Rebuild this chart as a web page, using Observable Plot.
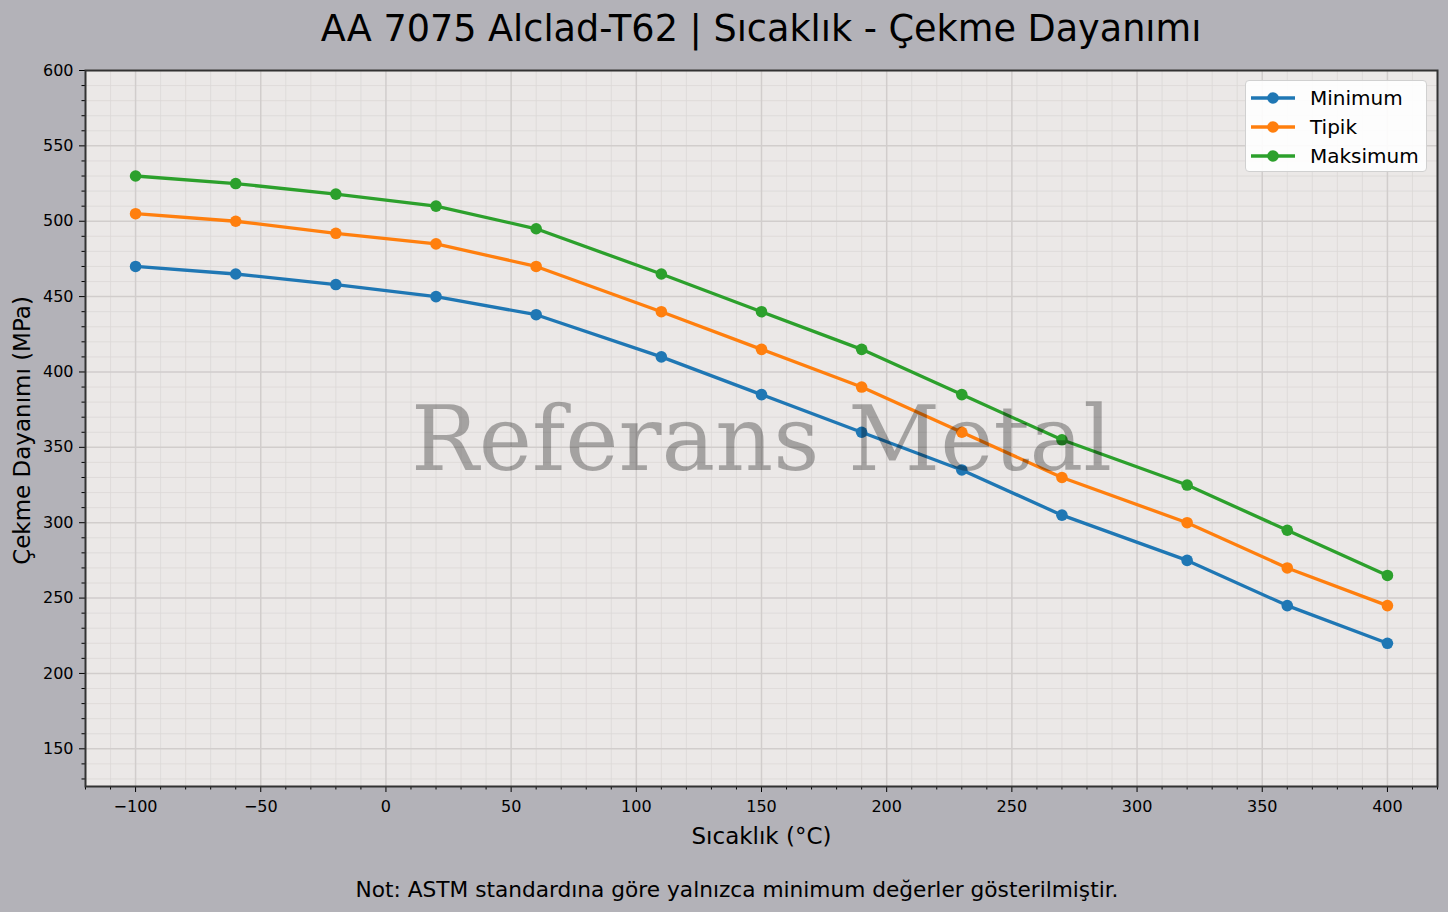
<!DOCTYPE html>
<html>
<head>
<meta charset="utf-8">
<script src="https://cdn.jsdelivr.net/npm/d3@7"></script>
<script src="https://cdn.jsdelivr.net/npm/@observablehq/plot@0.6"></script>
<style>
  html, body { margin: 0; padding: 0; background: #b3b2b8; }
  #fig { position: relative; width: 1448px; height: 912px; background: #b3b2b8; font-family: "DejaVu Sans", sans-serif; overflow: hidden; }
  #title { position: absolute; left: 85px; width: 1352px; top: 11px; text-align: center; font-size: 36.6px; line-height: 36px; color: #000; white-space: nowrap; }
  #caption { position: absolute; left: 737px; top: 879px; transform: translateX(-50%); font-size: 21.7px; line-height: 21px; color: #000; white-space: nowrap; }
  #chart { position: absolute; left: 0; top: 50px; }
  #legend { position: absolute; left: 1245px; top: 80px; width: 180px; height: 90px; background: rgba(255,255,255,0.9); border: 1px solid #d0d0d0; border-radius: 4px; }
  .lrow { position: absolute; left: 5px; height: 29px; display: flex; align-items: center; font-size: 20px; color: #000; }
  .lrow svg { margin-right: 15px; }
</style>
</head>
<body>
<div id="fig">
  <div id="title"></div>
  <div id="chart"></div>
  <div id="legend"></div>
  <div id="caption"></div>
</div>
<script>
const titleText = "AA 7075 Alclad-T62 | Sıcaklık - Çekme Dayanımı";
const captionText = "Not: ASTM standardına göre yalnızca minimum değerler gösterilmiştir.";
const xLabel = "Sıcaklık (°C)";
const yLabel = "Çekme Dayanımı (MPa)";
const watermark = "Referans Metal";

const temps = [-100, -60, -20, 20, 60, 110, 150, 190, 230, 270, 320, 360, 400];
const minVals = [470, 465, 458, 450, 438, 410, 385, 360, 335, 305, 275, 245, 220];
const typVals = [505, 500, 492, 485, 470, 440, 415, 390, 360, 330, 300, 270, 245];
const maxVals = [530, 525, 518, 510, 495, 465, 440, 415, 385, 355, 325, 295, 265];
const seriesNames = ["Minimum", "Tipik", "Maksimum"];
const seriesColors = ["#1f77b4", "#ff7f0e", "#2ca02c"];
const xTicks = [-100, -50, 0, 50, 100, 150, 200, 250, 300, 350, 400];
const yTicks = [150, 200, 250, 300, 350, 400, 450, 500, 550, 600];
const xMinor = d3.range(-120, 421, 10).filter(v => !xTicks.includes(v));
const yMinor = d3.range(130, 601, 10).filter(v => !yTicks.includes(v));

const seriesVals = [minVals, typVals, maxVals];
const rows = [];
seriesNames.forEach((s, i) => temps.forEach((t, j) => rows.push({s, t, v: seriesVals[i][j]})));

document.getElementById("title").textContent = titleText;
document.getElementById("caption").textContent = captionText;

const fmt = d => d < 0 ? "\u2212" + Math.abs(d) : String(d);

const chart = Plot.plot({
  width: 1448,
  height: 800,
  marginTop: 20,
  marginLeft: 85,
  marginRight: 11,
  marginBottom: 64,
  style: {background: "transparent", fontFamily: "DejaVu Sans", color: "#000", overflow: "visible"},
  x: {domain: [-120, 420], label: null},
  y: {domain: [125, 600], label: null},
  color: {domain: seriesNames, range: seriesColors},
  marks: [
    Plot.frame({fill: "#ebe8e7", stroke: "none"}),
    Plot.gridX(xMinor, {stroke: "#dcd8d7", strokeOpacity: 1, strokeWidth: 0.8}),
    Plot.gridY(yMinor, {stroke: "#dcd8d7", strokeOpacity: 1, strokeWidth: 0.8}),
    Plot.gridX(xTicks, {stroke: "#d1cdcc", strokeOpacity: 1, strokeWidth: 1.5}),
    Plot.gridY(yTicks, {stroke: "#d1cdcc", strokeOpacity: 1, strokeWidth: 1.5}),
    Plot.line(rows, {x: "t", y: "v", z: "s", stroke: "s", strokeWidth: 3.3}),
    Plot.dot(rows, {x: "t", y: "v", fill: "s", r: 5.8, stroke: "none"}),
    Plot.text([watermark], {text: d => d, frameAnchor: "middle", dy: 13, fontSize: 90, fontFamily: "DejaVu Serif", fill: "#000", fillOpacity: 0.3}),
    Plot.axisX(xTicks, {tickSize: 6, tickPadding: 8, fontSize: 16, tickFormat: fmt, label: null}),
    Plot.axisX(xMinor, {tickSize: 3.5, tickFormat: () => "", label: null}),
    Plot.axisY(yTicks, {tickSize: 6, tickPadding: 6, fontSize: 16, tickFormat: fmt, label: null}),
    Plot.axisY(yMinor, {tickSize: 3.5, tickFormat: () => "", label: null}),
    Plot.frame({stroke: "#333", strokeWidth: 2, fill: "none"}),
    Plot.text([xLabel], {text: d => d, frameAnchor: "bottom", lineAnchor: "bottom", dy: 57, fontSize: 23, fill: "#000"}),
    Plot.text([yLabel], {text: d => d, frameAnchor: "left", textAnchor: "middle", lineAnchor: "bottom", rotate: -90, dx: -56, dy: 2, fontSize: 23, fill: "#000"})
  ]
});
document.getElementById("chart").appendChild(chart);

const legend = d3.select("#legend");
seriesNames.forEach((name, i) => {
  const row = legend.append("div").attr("class", "lrow").style("top", (2 + i * 29) + "px");
  const svg = row.append("svg").attr("width", 44).attr("height", 14);
  svg.append("line").attr("x1", 0).attr("x2", 44).attr("y1", 7).attr("y2", 7).attr("stroke", seriesColors[i]).attr("stroke-width", 3.3);
  svg.append("circle").attr("cx", 22).attr("cy", 7).attr("r", 5.8).attr("fill", seriesColors[i]);
  row.append("span").text(name);
});
</script>
</body>
</html>
